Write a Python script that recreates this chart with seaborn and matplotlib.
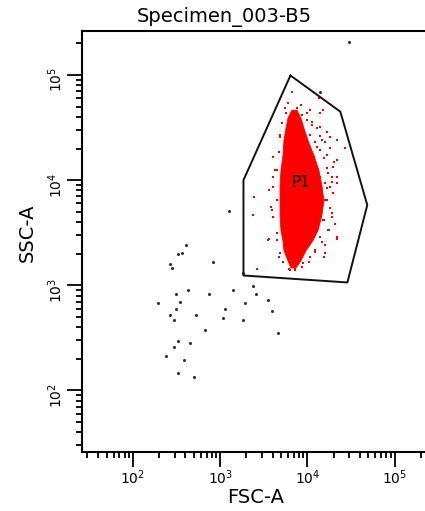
import numpy as np
import pandas as pd
import matplotlib
matplotlib.use("Agg")
import matplotlib.pyplot as plt
import seaborn as sns
from matplotlib.ticker import LogLocator

# ---------------- data ----------------
title = "Specimen_003-B5"
x_label = "FSC-A"
y_label = "SSC-A"
gate_name = "P1"

# gate P1 polygon vertices (FSC-A, SSC-A)
gate_fsc = [6400, 23900, 48700, 28800, 1850, 1850]
gate_ssc = [99000, 44800, 5800, 1065, 1240, 10000]

# P1 label position
p1_fsc, p1_ssc = 8340, 9400

# dense core of the P1 population: SSC levels and FSC extent at each level
core_ssc = [46800, 39260, 31500, 24200, 17400, 12510, 8990, 6465, 4650, 3342, 2681, 2152, 1727, 1480]
core_fsc_lo = [6575, 5915, 5610, 5325, 5185, 4920, 4800, 4800, 4800, 4920, 5185, 5325, 5915, 6400]
core_fsc_hi = [7500, 8330, 9020, 10020, 11740, 13400, 14490, 15280, 14490, 13050, 11430, 9510, 8330, 7305]

# sparse events of the P1 population (red)
red_fsc = [6073, 6748, 10020, 14120, 15280, 11430, 14120, 16980, 18380, 22110,
           14880, 13050, 18380, 16980, 22110, 27300, 19900, 17430, 22110, 18380,
           19900, 16980, 18380, 19370, 15280, 22110, 17430, 14880, 12380, 10840,
           9020, 7305, 6400, 5325, 4920, 4090, 4545, 3984, 4311, 4090,
           4920, 5185, 2413, 2351, 2612, 10840, 8785, 12380, 13400, 11740,
           13050, 10290, 16110, 4545, 3779, 4090, 3518, 13750, 7700, 5760, 8555,
           9943, 11350, 12940, 10850, 14120, 12380, 16110, 10370, 14120, 18380,
           11840, 15400, 20060, 12940, 16850, 14120, 19220, 21930, 16110, 8716,
           5610, 4920, 4703, 4508, 16850, 19220, 16110, 19220, 15400, 20970,
           17570, 14120, 21930, 16110, 12380, 15400, 10370, 8716, 6120, 7305,
           4703, 4508, 3613, 3953, 4508, 3613]
red_ssc = [54600, 69550, 43820, 43820, 46800, 35950, 32200, 28850, 25850, 24200,
           24200, 20750, 20300, 17400, 15580, 20300, 13360, 11710, 10720, 8605,
           7540, 6465, 5422, 4449, 4163, 2864, 3342, 2566, 2152, 1845,
           1617, 1448, 1386, 1652, 2014, 4449, 6465, 8605, 12510, 16650,
           25850, 35170, 6904, 4650, 1417, 46800, 31500, 12510, 7540, 4857,
           3568, 2681, 2014, 3127, 5541, 10720, 2723, 60950, 48930, 43820, 52250,
           37570, 33650, 31290, 27010, 26020, 23310, 23310, 20160, 19420, 20160,
           16760, 16180, 15010, 13450, 12980, 10790, 10790, 9333, 9333, 41940,
           48600, 27010, 18700, 12510, 8360, 9667, 6465, 4825, 4163, 3871,
           3342, 2883, 2784, 2403, 2073, 1857, 1663, 1491, 1439, 1386,
           1857, 2681, 2784, 5188, 6465, 8054]

# events outside the gate (dark)
other_fsc = [405, 365, 328, 268, 283, 834, 1820, 427, 311, 750, 1398, 2351, 2592, 3518,
             196, 346, 1919, 311, 1132, 3953, 268, 527, 295, 1074, 1806, 676, 4580,
             328, 450, 295, 242, 384, 328, 500, 1258, 29780, 14120]
other_ssc = [2418, 2045, 1971, 1605, 1471, 1663, 1306, 899, 830, 830, 899, 975, 830, 732,
             675, 701, 675, 597, 597, 571, 526, 526, 469, 485, 469, 378, 349,
             297, 282, 260, 212, 196, 146, 135, 5070, 206600, 69550]

ax_min, ax_max = 26, 262144

# ---------------- figure ----------------
sns.set_style("ticks")
plt.rcParams['font.family'] = ['DejaVu Sans']
plt.rcParams['text.color'] = 'black'
plt.rcParams['xtick.color'] = 'black'
plt.rcParams['ytick.color'] = 'black'
plt.rcParams['axes.labelcolor'] = 'black'

fig = plt.figure(figsize=(4.25, 5.11), dpi=100)
W, H = 425, 511
ax = fig.add_axes([82 / W, (H - 452) / H, (431 - 82) / W, (452 - 31) / H])
ax.set_xscale("log")
ax.set_yscale("log")
ax.set_xlim(ax_min, ax_max)
ax.set_ylim(ax_min, ax_max)

red_df = pd.DataFrame({"FSC-A": red_fsc, "SSC-A": red_ssc})
other_df = pd.DataFrame({"FSC-A": other_fsc, "SSC-A": other_ssc})

ax.fill_betweenx(core_ssc, core_fsc_lo, core_fsc_hi, color="#ff0000", lw=0.6,
                 edgecolor="#ff0000", zorder=2)
sns.scatterplot(data=red_df, x="FSC-A", y="SSC-A", ax=ax, color="#ff0000",
                marker="s", s=4, linewidth=0, zorder=3)
sns.scatterplot(data=other_df, x="FSC-A", y="SSC-A", ax=ax, color="#333333",
                marker="o", s=5, linewidth=0, zorder=3)

gx = gate_fsc + [gate_fsc[0]]
gy = gate_ssc + [gate_ssc[0]]
ax.plot(gx, gy, color="#111111", lw=1.4, zorder=4)
ax.text(p1_fsc, p1_ssc, gate_name, fontsize=11, color="black",
        ha="center", va="center", zorder=5)

for s in ["left", "bottom", "top"]:
    ax.spines[s].set_linewidth(1.5)
    ax.spines[s].set_color("black")
ax.spines["right"].set_visible(False)

ax.xaxis.set_minor_locator(LogLocator(base=10, subs=np.arange(2, 10), numticks=20))
ax.yaxis.set_minor_locator(LogLocator(base=10, subs=np.arange(2, 10), numticks=20))
ax.tick_params(which="major", direction="out", length=11, width=1.3, labelsize=10, pad=1,
               color="black", labelcolor="black")
ax.tick_params(which="minor", direction="out", length=4, width=1.3, color="black")
ax.tick_params(axis="y", which="major", labelrotation=90)
ax.set_xlabel("")
ax.set_ylabel("")

fig.text(256 / W, 1 - 497 / H, x_label, fontsize=14, ha="center", va="center")
fig.text(27 / W, 1 - 233 / H, y_label, fontsize=14, ha="center", va="center", rotation=90)
fig.text(224 / W, 1 - 17 / H, title, fontsize=14, ha="center", va="center")

fig.savefig("out.png", dpi=100)
